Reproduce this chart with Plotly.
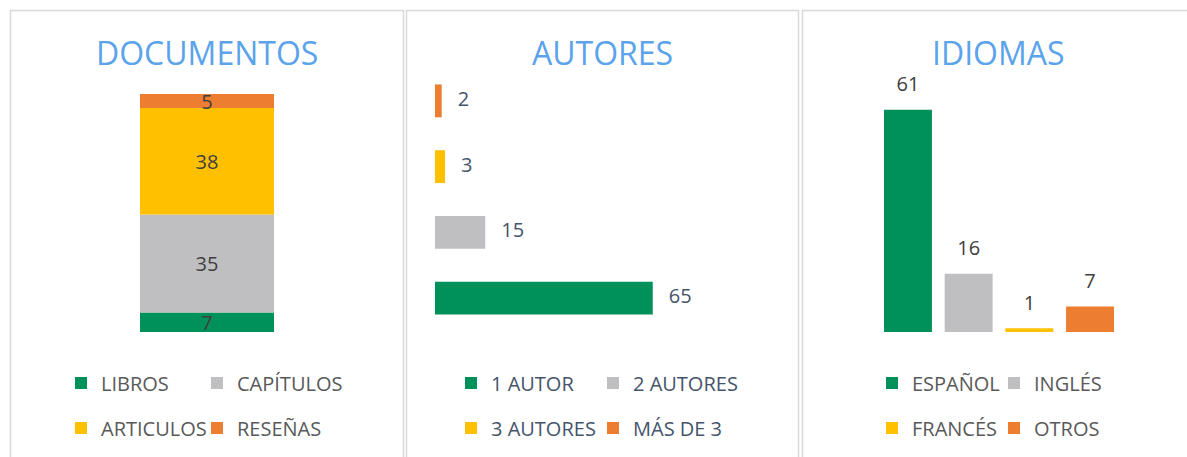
import plotly.graph_objects as go

# ---------------- data ----------------
titles = ["DOCUMENTOS", "AUTORES", "IDIOMAS"]

doc_labels = ["LIBROS", "CAPÍTULOS", "ARTICULOS", "RESEÑAS"]
doc_values = [7, 35, 38, 5]

autor_labels = ["1 AUTOR", "2 AUTORES", "3 AUTORES", "MÁS DE 3"]
autor_values = [65, 15, 3, 2]

idioma_labels = ["ESPAÑOL", "INGLÉS", "FRANCÉS", "OTROS"]
idioma_values = [61, 16, 1, 7]

colors = ["#00915A", "#BFBFC1", "#FFC000", "#ED7D31"]

# ---------------- layout helpers ----------------
W, H = 1187, 457
FONT = "Open Sans"


def px(x):
    return x / W


def py(y):
    return 1 - y / H


# legend entry widths (pixels): first column sets column spacing, second fits its text
col_w = [91, 97, 77]
last_w = [110, 112, 72]

fig = go.Figure()

# Panel 1: stacked column
for i, (lab, val) in enumerate(zip(doc_labels, doc_values)):
    fig.add_trace(go.Bar(
        x=[titles[0]], y=[val], name=lab, marker_color=colors[i], marker_line_width=0,
        width=0.5, text=[val], textposition="inside", insidetextanchor="middle",
        textangle=0, constraintext="none",
        textfont=dict(family=FONT, size=20, color="#404040"),
        xaxis="x", yaxis="y", legend="legend" if i < 2 else "legend2",
        legendwidth=col_w[0] if i % 2 == 0 else last_w[0],
        hoverinfo="name+y",
    ))

# Panel 2: horizontal bars
for i, (lab, val) in enumerate(zip(autor_labels, autor_values)):
    fig.add_trace(go.Bar(
        x=[val], y=[lab], orientation="h", name=lab, marker_color=colors[i],
        marker_line_width=0, width=0.5,
        xaxis="x2", yaxis="y2", legend="legend3" if i < 2 else "legend4",
        legendwidth=col_w[1] if i % 2 == 0 else last_w[1],
        hoverinfo="name+x",
    ))
fig.add_trace(go.Scatter(
    x=autor_values, y=autor_labels, mode="markers+text", text=autor_values,
    textposition="middle right", marker=dict(size=24, opacity=0),
    textfont=dict(family=FONT, size=20, color="#44546A"),
    xaxis="x2", yaxis="y2", showlegend=False, hoverinfo="skip", cliponaxis=False,
))

# Panel 3: columns
for i, (lab, val) in enumerate(zip(idioma_labels, idioma_values)):
    fig.add_trace(go.Bar(
        x=[lab], y=[val], name=lab, marker_color=colors[i], marker_line_width=0,
        width=0.79,
        xaxis="x3", yaxis="y3", legend="legend5" if i < 2 else "legend6",
        legendwidth=col_w[2] if i % 2 == 0 else last_w[2],
        hoverinfo="name+y",
    ))
fig.add_trace(go.Scatter(
    x=idioma_labels, y=idioma_values, mode="markers+text", text=idioma_values,
    textposition="top center", marker=dict(size=20, opacity=0),
    textfont=dict(family=FONT, size=20, color="#404040"),
    xaxis="x3", yaxis="y3", showlegend=False, hoverinfo="skip", cliponaxis=False,
))

hidden = dict(visible=False, fixedrange=True)

layout = dict(
    width=W, height=H, autosize=False,
    margin=dict(l=0, r=0, t=0, b=0, autoexpand=False),
    paper_bgcolor="white", plot_bgcolor="white",
    barmode="relative",
    font=dict(family=FONT, size=20, color="#595959"),
    xaxis=dict(domain=[px(73), px(341)], range=[-0.5, 0.5], type="category", **hidden),
    yaxis=dict(domain=[py(332), py(94)], range=[0, sum(doc_values)], **hidden),
    xaxis2=dict(domain=[px(435), px(770)], range=[0, 100], anchor="y2", **hidden),
    yaxis2=dict(domain=[py(331), py(68)], range=[-0.5, 3.5], type="category",
                categoryorder="array", categoryarray=autor_labels, anchor="x2", **hidden),
    xaxis3=dict(domain=[px(877.6), px(1120.4)], range=[-0.5, 3.5], type="category",
                categoryorder="array", categoryarray=idioma_labels, anchor="y3", **hidden),
    yaxis3=dict(domain=[py(332), py(77)], range=[0, 70], anchor="x3", **hidden),
)

# legends: one per row, two columns each
legend_specs = [
    ("legend", 79, 383, "#595959"),
    ("legend2", 79, 428, "#595959"),
    ("legend3", 469, 383, "#44546A"),
    ("legend4", 469, 428, "#44546A"),
    ("legend5", 890, 383, "#595959"),
    ("legend6", 890, 428, "#595959"),
]
for name, sx, sy, col in legend_specs:
    layout[name] = dict(
        orientation="h", x=px(sx - 18), xanchor="left", y=py(sy), yanchor="middle",
        entrywidthmode="pixels", traceorder="normal",
        bgcolor="rgba(0,0,0,0)", borderwidth=0,
        font=dict(family=FONT, size=20, color=col), itemclick=False, itemdoubleclick=False,
    )

# titles
title_x = [206.5, 603, 999]
layout["annotations"] = [
    dict(text=t, x=px(cx), y=py(52.6), xref="paper", yref="paper", xanchor="center",
         yanchor="middle", showarrow=False, font=dict(family=FONT, size=32, color="#5BA3EB"))
    for t, cx in zip(titles, title_x)
]

# panel frames
panels = [(10.5, 403.5), (406.5, 798.5), (802.5, 1210)]
layout["shapes"] = [
    dict(type="rect", xref="paper", yref="paper", x0=px(a), x1=px(b), y0=py(480), y1=py(10.5),
         line=dict(color="#D9D9D9", width=1.5), fillcolor="rgba(0,0,0,0)", layer="below")
    for a, b in panels
]

fig.update_layout(**layout)
fig.write_html(
    "out.html",
    config={"displayModeBar": False, "responsive": False},
    post_script="document.body.style.margin='0';document.body.style.overflow='hidden';",
)
